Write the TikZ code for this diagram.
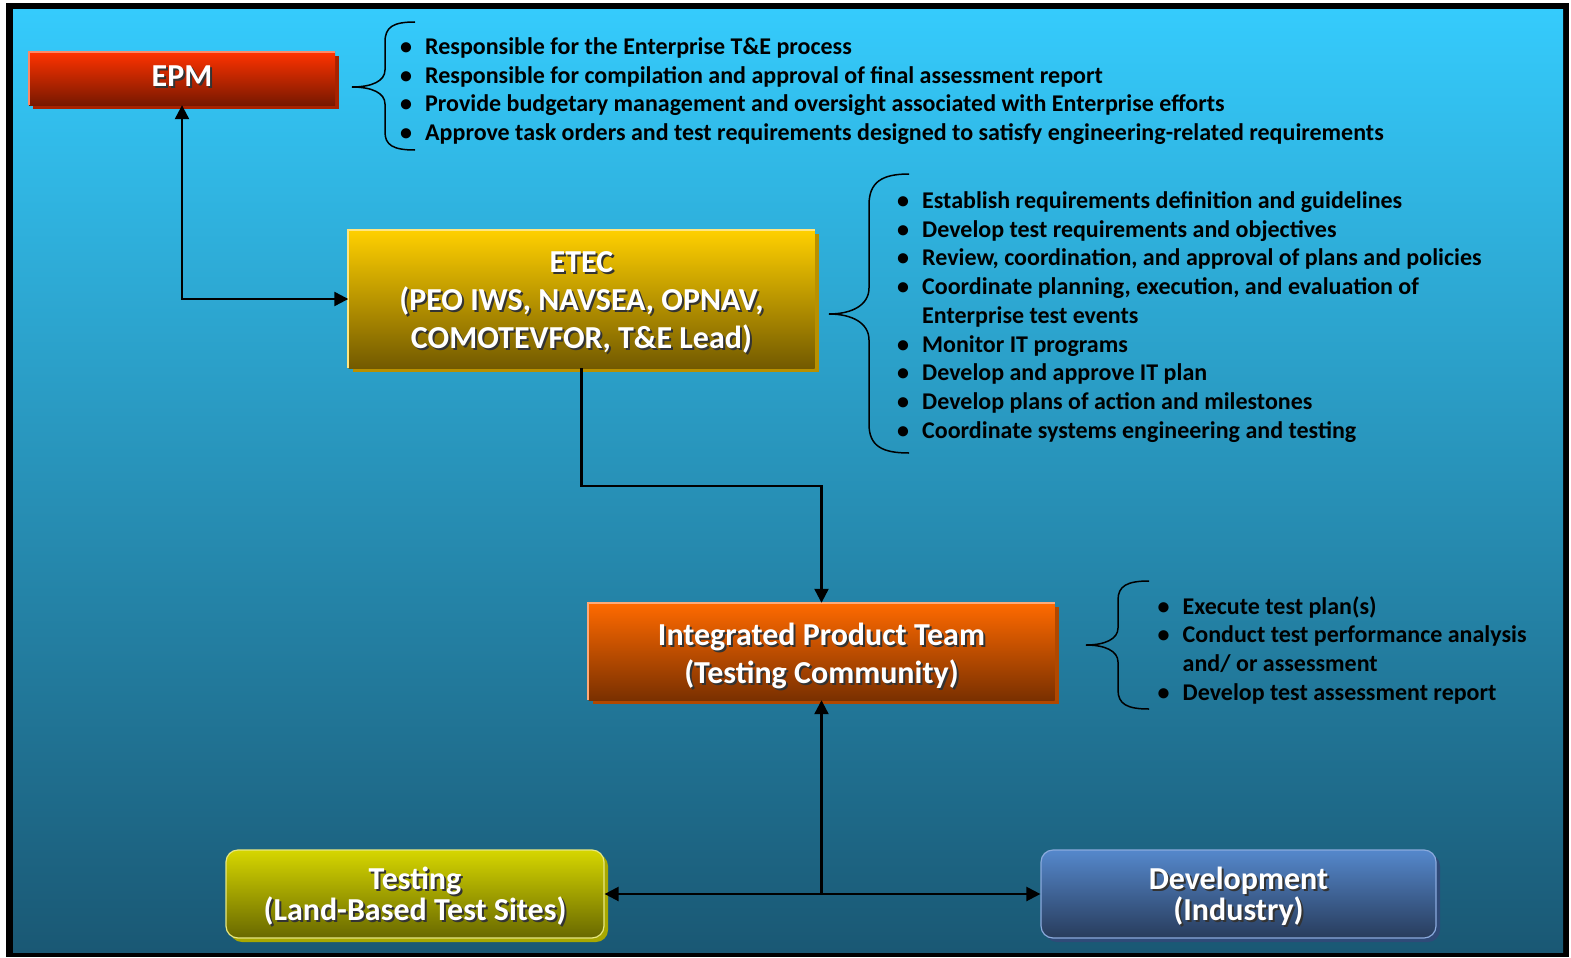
\documentclass[tikz,border=0pt]{standalone}
\usepackage{fontspec}
\setmainfont{Carlito}
\usetikzlibrary{arrows.meta,shadows}
\definecolor{bgtop}{HTML}{35CBFC}
\definecolor{bgbot}{HTML}{1A5874}
\definecolor{epmtop}{HTML}{FF3300}
\definecolor{epmbot}{HTML}{781800}
\definecolor{epmsh}{HTML}{A82200}
\definecolor{epmhl}{HTML}{FF8866}
\definecolor{etectop}{HTML}{FFD000}
\definecolor{etecbot}{HTML}{735A00}
\definecolor{etecsh}{HTML}{B89000}
\definecolor{etechl}{HTML}{FFE680}
\definecolor{ipttop}{HTML}{FF6A00}
\definecolor{iptbot}{HTML}{7A3000}
\definecolor{iptsh}{HTML}{B04800}
\definecolor{ipthl}{HTML}{FFAA77}
\definecolor{tsttop}{HTML}{D6D600}
\definecolor{tstbot}{HTML}{686800}
\definecolor{tstsh}{HTML}{A8A800}
\definecolor{tsthl}{HTML}{E8E880}
\definecolor{devtop}{HTML}{5588CC}
\definecolor{devbot}{HTML}{283C5C}
\definecolor{devsh}{HTML}{2F4A78}
\definecolor{devhl}{HTML}{8AAADD}
% line with fixed height #1 and depth #2, white text with dark shadow
\newcommand\shtxt[3]{\rule[-#2]{0pt}{\dimexpr #1+#2\relax}\smash{\rlap{\hspace{2pt}\raisebox{-2pt}{\color{black!80}#3}}#3}}
\newcommand\listfont{\fontsize{24}{28.7}\selectfont\bfseries}
\newcommand\bul{\makebox[24pt][l]{\hspace{-1pt}•}}
\newcommand\nobul{\hspace{24pt}}
\begin{document}
\begin{tikzpicture}[x=1pt,y=-1pt,
  box/.style n args={2}{rectangle, inner sep=0pt, top color=#1, bottom color=#2,
    text=white, align=center, font=\fontsize{32}{38}\selectfont\bfseries},
  shad/.style={drop shadow={shadow xshift=4pt, shadow yshift=-4pt, fill=#1, opacity=1}},
  hl/.style={line width=2pt, draw=#1},
  conn/.style={line width=2.3pt, draw=black, arrows={-Triangle[length=14pt,width=14pt]}},
  conn2/.style={line width=2.3pt, draw=black, arrows={Triangle[length=14pt,width=14pt]-Triangle[length=14pt,width=14pt]}},
  bracepath/.style={line width=1.5pt, draw=black},
  bullets/.style={anchor=base west, inner sep=0pt, text=black, font=\listfont}
]
\useasboundingbox (0,0) rectangle (1571,958);
\fill[white] (0,0) rectangle (1571,958);
\fill[black] (6,3) rectangle (1569,957);
\shade[top color=bgtop, bottom color=bgbot] (13,10) rectangle (1563,952);

% boxes
\node[box={epmtop}{epmbot}, shad=epmsh, minimum width=306pt, minimum height=53pt] (epm) at (182,78.5)
  {\shtxt{27pt}{11pt}{EPM}};
\draw[hl=epmhl] (epm.south west) -- (epm.north west) -- (epm.north east);
\node[box={etectop}{etecbot}, shad=etecsh, minimum width=466pt, minimum height=138pt] (etec) at (581.5,299)
  {\shtxt{30pt}{8pt}{ETEC}\\\shtxt{30pt}{8pt}{(PEO IWS, NAVSEA, OPNAV,}\\\shtxt{30pt}{8pt}{COMOTEVFOR, T\&E Lead)}};
\draw[hl=etechl] (etec.south west) -- (etec.north west) -- (etec.north east);
\node[box={ipttop}{iptbot}, shad=iptsh, minimum width=466pt, minimum height=97pt] (ipt) at (821.5,651.5)
  {\shtxt{31.5pt}{6.5pt}{Integrated Product Team}\\\shtxt{31.5pt}{6.5pt}{(Testing Community)}};
\draw[hl=ipthl] (ipt.south west) -- (ipt.north west) -- (ipt.north east);
\node[box={tsttop}{tstbot}, shad=tstsh, draw=tsthl, line width=1.2pt, rounded corners=12pt, minimum width=378pt, minimum height=88pt,
  font=\fontsize{32}{31}\selectfont\bfseries] (tst) at (415,894)
  {\shtxt{26pt}{5pt}{Testing}\\\shtxt{26pt}{5pt}{(Land-Based Test Sites)}};
\node[box={devtop}{devbot}, shad=devsh, draw=devhl, line width=1.2pt, rounded corners=12pt, minimum width=395pt, minimum height=88pt,
  font=\fontsize{32}{31}\selectfont\bfseries] (dev) at (1238.5,894)
  {\shtxt{26pt}{5pt}{Development}\\\shtxt{26pt}{5pt}{(Industry)}};

% connectors
\coordinate (c1) at (182,299);
\draw[conn2] (epm.south) -- (c1) -- (etec.west);
\coordinate (c2) at (581.5,486);
\coordinate (c3) at (821.5,486);
\draw[conn] (etec.south) -- (c2) -- (c3) -- (ipt.north);
\coordinate (j) at (821.5,894);
\draw[conn] (j) -- (ipt.south);
\draw[conn] (j) -- (tst.east);
\draw[conn] (j) -- (dev.west);

% braces
\draw[bracepath] (415,22) .. controls (393,22) and (385,27) .. (385,42) -- (385,70)
  .. controls (385,81) and (372,87) .. (352,87) .. controls (372,87) and (385,93) .. (385,104)
  -- (385,132) .. controls (385,145) and (393,150) .. (415,150);
\draw[bracepath] (909,174) .. controls (882,174) and (869,182) .. (869,205) -- (869,288)
  .. controls (869,305) and (852,314) .. (829,314) .. controls (852,314) and (869,323) .. (869,340)
  -- (869,424) .. controls (869,446) and (882,453) .. (909,453);
\draw[bracepath] (1149,581) .. controls (1127,581) and (1118,586) .. (1118,600) -- (1118,628)
  .. controls (1118,639) and (1105,645) .. (1086,645) .. controls (1105,645) and (1118,651) .. (1118,662)
  -- (1118,690) .. controls (1118,704) and (1127,709) .. (1149,709);

% lists
\node[bullets] (l1) at (401,54.5) {\begin{tabular}[t]{@{}l@{}}
\bul Responsible for the Enterprise T\&E process\\
\bul Responsible for compilation and approval of final assessment report\\
\bul Provide budgetary management and oversight associated with Enterprise efforts\\
\bul Approve task orders and test requirements designed to satisfy engineering-related requirements
\end{tabular}};
\node[bullets] (l2) at (898,208.5) {\begin{tabular}[t]{@{}l@{}}
\bul Establish requirements definition and guidelines\\
\bul Develop test requirements and objectives\\
\bul Review, coordination, and approval of plans and policies\\
\bul Coordinate planning, execution, and evaluation of\\
\nobul Enterprise test events\\
\bul Monitor IT programs\\
\bul Develop and approve IT plan\\
\bul Develop plans of action and milestones\\
\bul Coordinate systems engineering and testing
\end{tabular}};
\node[bullets] (l3) at (1158.5,614) {\begin{tabular}[t]{@{}l@{}}
\bul Execute test plan(s)\\
\bul Conduct test performance analysis\\
\nobul and/ or assessment\\
\bul Develop test assessment report
\end{tabular}};
\end{tikzpicture}
\end{document}
